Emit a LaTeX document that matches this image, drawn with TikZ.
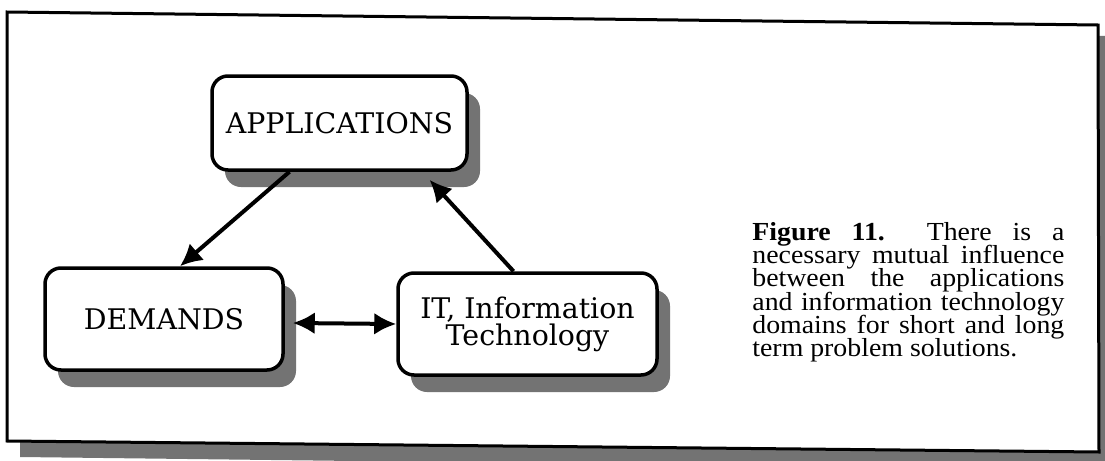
\documentclass[tikz,border=0pt]{standalone}
\usepackage{fontspec}
\setmainfont{Liberation Serif}
\newfontfamily\boxfont{DejaVu Serif}
\newfontfamily\capfamily[FakeStretch=1.07]{Liberation Serif}
\usetikzlibrary{arrows.meta, shadows}
\newcommand\capfont{\capfamily\fontsize{13}{11.6}\selectfont\lineskiplimit=-10pt\relax}

\tikzset{
  dombox/.style={draw, line width=1.75pt, rounded corners=8pt, fill=white, align=center,
    font=\boxfont\fontsize{14.2}{13.5}\selectfont,
    drop shadow={shadow xshift=6.5pt, shadow yshift=-8.5pt, fill=black!55, opacity=1}},
  infl/.style={line width=2pt, -{Latex[length=11pt,width=11pt]}},
  captext/.style={anchor=north west, text width=156pt, align=justify, inner sep=0pt,
    font=\capfont}
}

\begin{document}
\begin{tikzpicture}[x=0.5pt, y=-0.5pt]
		\useasboundingbox (0,0) rectangle (1105,461);
		\fill[black!55] (20,26) -- (1110,36) -- (1110,470) -- (20,457) -- cycle;
		\draw[line width=1.5pt, fill=white] (7,12) -- (1098,25) -- (1099,452) -- (7,441) -- cycle;
		
		\node(apps) [dombox, minimum width=127.5pt, minimum height=47pt] at (339.5,123) {APPLICATIONS};
		\node(dem) [dombox, minimum width=119pt, minimum height=51pt] at (164,319) {DEMANDS};
		\node(it) [dombox, minimum width=129.5pt, minimum height=51pt] at (527.5,324) {IT, Information\\Technology};
		
		\draw[infl] ([xshift=-25pt]apps.south) -- ([xshift=8pt]dem.north);
		\draw[infl] ([xshift=-7pt]it.north) -- ([xshift=45pt,yshift=-4pt]apps.south);
		\draw[infl, {Latex[length=11pt,width=11pt]}-{Latex[length=11pt,width=11pt]}] ([xshift=4pt,yshift=-2pt]dem.east) -- (it.west);
		
		\node(cap) [captext] at (752,222) {\textbf{Figure 11.}\ \ There is a\linebreak necessary mutual influence\linebreak between the applications\linebreak and information technology\linebreak domains for short and long\linebreak term problem solutions.};
		
		\end{tikzpicture}
\end{document}
